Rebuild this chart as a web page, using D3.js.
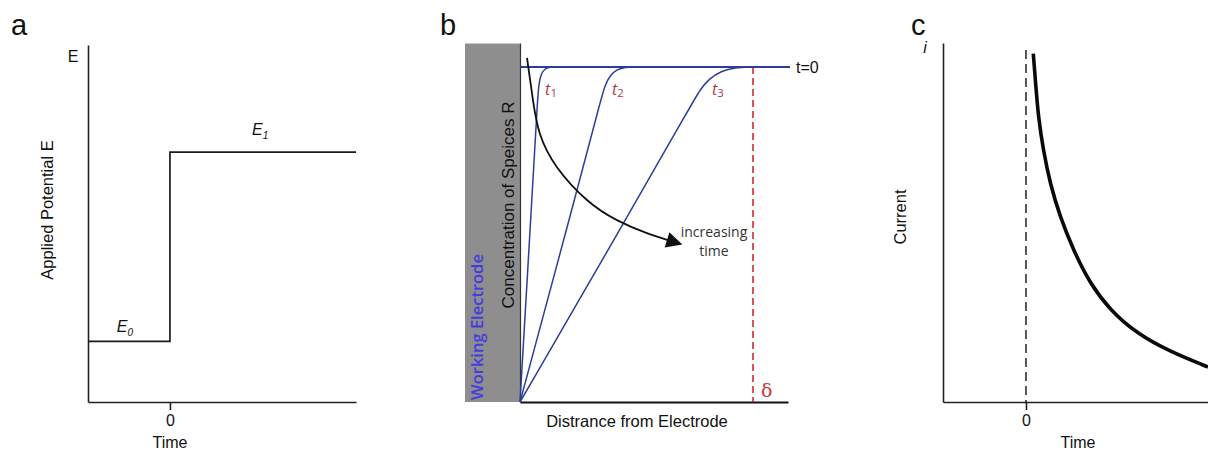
<!DOCTYPE html>
<html>
<head>
<meta charset="utf-8">
<script src="https://cdn.jsdelivr.net/npm/d3@7"></script>
<style>
  html, body { margin: 0; padding: 0; background: #fff; }
  svg { display: block; }
  text { font-family: "Liberation Sans", Arial, sans-serif; fill: #111; }
</style>
</head>
<body>
<script>
// ---------- Panel a: potential step ----------
const stepTimes = [-1, 0, 2.27];
const stepPotentials = [0.17, 0.70, 0.70];
const potentialLabels = ["E", "E"];
const potentialSubs = ["0", "1"];

// ---------- Panel b: concentration profiles of R ----------
const profileNames = ["1", "2", "3"];
const profileDistances = [
  [0, 0.048, 0.065, 0.070, 0.078, 0.092, 0.110, 0.130],
  [0, 0.211, 0.300, 0.315, 0.333, 0.360, 0.390, 0.425],
  [0, 0.367, 0.640, 0.665, 0.700, 0.745, 0.795, 0.860]
];
const profileConcs = [
  [0, 0.66, 0.905, 0.950, 0.980, 0.995, 1, 1],
  [0, 0.63, 0.905, 0.945, 0.975, 0.993, 1, 1],
  [0, 0.51, 0.895, 0.930, 0.965, 0.988, 0.998, 1]
];
const bulkDistances = [0, 1];
const bulkConcs = [1, 1];
const diffusionLayer = 0.863;
const arrowDistances = [0.026, 0.048, 0.074, 0.137, 0.248, 0.359, 0.470, 0.556];
const arrowConcs = [1.027, 0.901, 0.800, 0.701, 0.603, 0.543, 0.504, 0.481];

// ---------- Panel c: current transient ----------
const currentTimes = [0.089, 0.118, 0.150, 0.211, 0.293, 0.415, 0.577, 0.780, 1.024, 1.350, 1.756, 2.220];
const currentValues = [0.976, 0.892, 0.799, 0.706, 0.613, 0.519, 0.426, 0.332, 0.258, 0.192, 0.141, 0.098];
const timeTicks = [0];

const W = 1208, H = 452;
const svg = d3.select("body").append("svg")
  .attr("width", W).attr("height", H)
  .attr("viewBox", `0 0 ${W} ${H}`);

svg.append("rect").attr("width", W).attr("height", H).attr("fill", "#fff");

function styleAxis(g, color, width) {
  g.selectAll("path.domain").attr("stroke", color).attr("stroke-width", width);
  g.selectAll(".tick line").attr("stroke", color).attr("stroke-width", width);
  g.selectAll(".tick text")
    .attr("font-family", "'Liberation Sans', Arial, sans-serif")
    .attr("font-size", 16).attr("fill", "#111");
}

// ===== Panel a =====
{
  const x = d3.scaleLinear().domain([-1, 2.27]).range([88, 356]);
  const y = d3.scaleLinear().domain([0, 1]).range([402, 45]);

  svg.append("text").attr("x", 11).attr("y", 35)
    .attr("font-size", 29).text("a");

  const xAxis = svg.append("g").attr("transform", `translate(0,${y(0)})`)
    .call(d3.axisBottom(x).tickValues(timeTicks).tickFormat(d3.format("d"))
      .tickSizeOuter(0).tickSizeInner(8).tickPadding(5));
  styleAxis(xAxis, "#222", 1.6);

  const yAxis = svg.append("g").attr("transform", `translate(${x(-1)},0)`)
    .call(d3.axisLeft(y).tickValues([]).tickSizeOuter(0));
  styleAxis(yAxis, "#222", 1.6);

  svg.append("text").attr("x", 73).attr("y", 62).attr("text-anchor", "middle")
    .attr("font-size", 16).text("E");

  svg.append("text").attr("transform", `translate(53,${210}) rotate(-90)`)
    .attr("text-anchor", "middle").attr("font-size", 16.5).text("Applied Potential E");

  svg.append("text").attr("x", x(0)).attr("y", 448).attr("text-anchor", "middle")
    .attr("font-size", 16).text("Time");

  const line = d3.line().x(d => x(d[0])).y(d => y(d[1])).curve(d3.curveStepAfter);
  svg.append("path")
    .datum(stepTimes.map((t, i) => [t, stepPotentials[i]]))
    .attr("d", line).attr("fill", "none").attr("stroke", "#1a1a1a").attr("stroke-width", 1.7);

  const labelPos = [[-0.55, stepPotentials[0], 9], [1.1, stepPotentials[2], 17]];
  labelPos.forEach((p, i) => {
    const t = svg.append("text").attr("x", x(p[0])).attr("y", y(p[1]) - p[2])
      .attr("text-anchor", "middle").attr("font-style", "italic").attr("font-size", 16);
    t.append("tspan").text(potentialLabels[i]);
    t.append("tspan").attr("font-size", 10).attr("dy", 4).text(potentialSubs[i]);
  });
}

// ===== Panel b =====
{
  const x = d3.scaleLinear().domain([0, 1]).range([520, 790]);
  const y = d3.scaleLinear().domain([0, 1]).range([402, 67]);

  svg.append("text").attr("x", 440).attr("y", 35)
    .attr("font-size", 29).text("b");

  // electrode block
  svg.append("rect").attr("x", 465).attr("y", y(1.07)).attr("width", x(0) - 465)
    .attr("height", y(0) - y(1.07)).attr("fill", "#8e8e8e");

  svg.append("text").attr("transform", `translate(483,${327}) rotate(-90)`)
    .attr("text-anchor", "middle").attr("font-size", 16.5).attr("font-weight", 600)
    .style("font-family", "'Open Sans', sans-serif").style("fill", "#4a3ade")
    .text("Working Electrode");

  svg.append("text").attr("transform", `translate(514,${205}) rotate(-90)`)
    .attr("text-anchor", "middle").attr("font-size", 17)
    .text("Concentration of Speices R");

  const xAxis = svg.append("g").attr("transform", `translate(0,${y(0)})`)
    .call(d3.axisBottom(x.copy().range([520, 788])).tickValues([]).tickSizeOuter(0));
  styleAxis(xAxis, "#111", 2);

  const yAxis = svg.append("g").attr("transform", `translate(${x(0)},0)`)
    .call(d3.axisLeft(y.copy().domain([0, 1.07]).range([402, 43])).tickValues([]).tickSizeOuter(0));
  styleAxis(yAxis, "#333", 1.2);

  svg.append("text").attr("x", 637).attr("y", 427).attr("text-anchor", "middle")
    .attr("font-size", 16.5).text("Distrance from Electrode");

  // diffusion layer thickness
  svg.append("line").attr("x1", x(diffusionLayer)).attr("x2", x(diffusionLayer))
    .attr("y1", y(1)).attr("y2", y(0))
    .attr("stroke", "#d42a2a").attr("stroke-width", 1.6).attr("stroke-dasharray", "7,4");
  svg.append("text").attr("x", x(diffusionLayer) + 8).attr("y", 397)
    .attr("font-size", 19).style("font-family", "'DejaVu Serif', serif").style("fill", "#c8383a")
    .text("δ");

  // bulk concentration at t = 0
  const lin = d3.line().x(d => x(d[0])).y(d => y(d[1]));
  svg.append("path").datum(bulkDistances.map((d, i) => [d, bulkConcs[i]]))
    .attr("d", lin).attr("fill", "none").attr("stroke", "#2c3e98").attr("stroke-width", 2);
  svg.append("text").attr("x", 796).attr("y", 73).attr("font-size", 16).text("t=0");

  const curve = d3.line().x(d => x(d[0])).y(d => y(d[1])).curve(d3.curveBasis);
  profileDistances.forEach((ds, k) => {
    svg.append("path").datum(ds.map((d, i) => [d, profileConcs[k][i]]))
      .attr("d", curve).attr("fill", "none").attr("stroke", "#2c3e98").attr("stroke-width", 1.5);
  });

  const tLabelX = [0.093, 0.341, 0.711];
  profileNames.forEach((n, i) => {
    const t = svg.append("text").attr("x", x(tLabelX[i])).attr("y", 95)
      .attr("font-size", 16).attr("font-style", "italic")
      .style("font-family", "'Open Sans', sans-serif").style("fill", "#a8403e");
    t.append("tspan").text("t");
    t.append("tspan").attr("font-size", 11.5).attr("font-style", "normal").attr("dy", 2).text(n);
  });

  // increasing-time arrow
  const defs = svg.append("defs");
  defs.append("marker").attr("id", "arrowHead")
    .attr("viewBox", "0 0 10 10").attr("refX", 2).attr("refY", 5)
    .attr("markerWidth", 18).attr("markerHeight", 16).attr("markerUnits", "userSpaceOnUse")
    .attr("orient", "auto")
    .append("path").attr("d", "M0,0 L10,5 L0,10 z").attr("fill", "#111");

  const arrowLine = d3.line().x(d => x(d[0])).y(d => y(d[1])).curve(d3.curveNatural);
  svg.append("path").datum(arrowDistances.map((d, i) => [d, arrowConcs[i]]))
    .attr("d", arrowLine).attr("fill", "none").attr("stroke", "#111").attr("stroke-width", 1.8)
    .attr("marker-end", "url(#arrowHead)");

  svg.append("text").attr("x", 714).attr("y", 237).attr("text-anchor", "middle")
    .attr("font-size", 14).style("font-family", "'Open Sans', sans-serif").style("fill", "#333")
    .text("increasing");
  svg.append("text").attr("x", 714).attr("y", 256).attr("text-anchor", "middle")
    .attr("font-size", 14).style("font-family", "'Open Sans', sans-serif").style("fill", "#333")
    .text("time");
}

// ===== Panel c =====
{
  const x = d3.scaleLinear().domain([-1.012, 2.22]).range([943, 1208]);
  const y = d3.scaleLinear().domain([0, 1]).range([402, 45]);

  svg.append("text").attr("x", 911).attr("y", 35)
    .attr("font-size", 29).text("c");
  svg.append("text").attr("x", 925).attr("y", 53).attr("text-anchor", "middle")
    .attr("font-size", 16).attr("font-style", "italic").text("i");

  const xAxis = svg.append("g").attr("transform", `translate(0,${y(0)})`)
    .call(d3.axisBottom(x).tickValues(timeTicks).tickFormat(d3.format("d"))
      .tickSizeOuter(0).tickSizeInner(8).tickPadding(5));
  styleAxis(xAxis, "#222", 1.6);

  const yAxis = svg.append("g").attr("transform", `translate(${x.range()[0]},0)`)
    .call(d3.axisLeft(y.copy().range([402, 43])).tickValues([]).tickSizeOuter(0));
  styleAxis(yAxis, "#222", 1.6);

  svg.append("text").attr("transform", `translate(906,${217}) rotate(-90)`)
    .attr("text-anchor", "middle").attr("font-size", 16.5).text("Current");

  svg.append("text").attr("x", 1078).attr("y", 448).attr("text-anchor", "middle")
    .attr("font-size", 16).text("Time");

  svg.append("line").attr("x1", x(0)).attr("x2", x(0)).attr("y1", 50).attr("y2", y(0))
    .attr("stroke", "#222").attr("stroke-width", 1.5).attr("stroke-dasharray", "9,5");

  const curve = d3.line().x(d => x(d[0])).y(d => y(d[1])).curve(d3.curveBasis);
  svg.append("path").datum(currentTimes.map((t, i) => [t, currentValues[i]]))
    .attr("d", curve).attr("fill", "none").attr("stroke", "#0a0a0a").attr("stroke-width", 3.6);
}
</script>
</body>
</html>
